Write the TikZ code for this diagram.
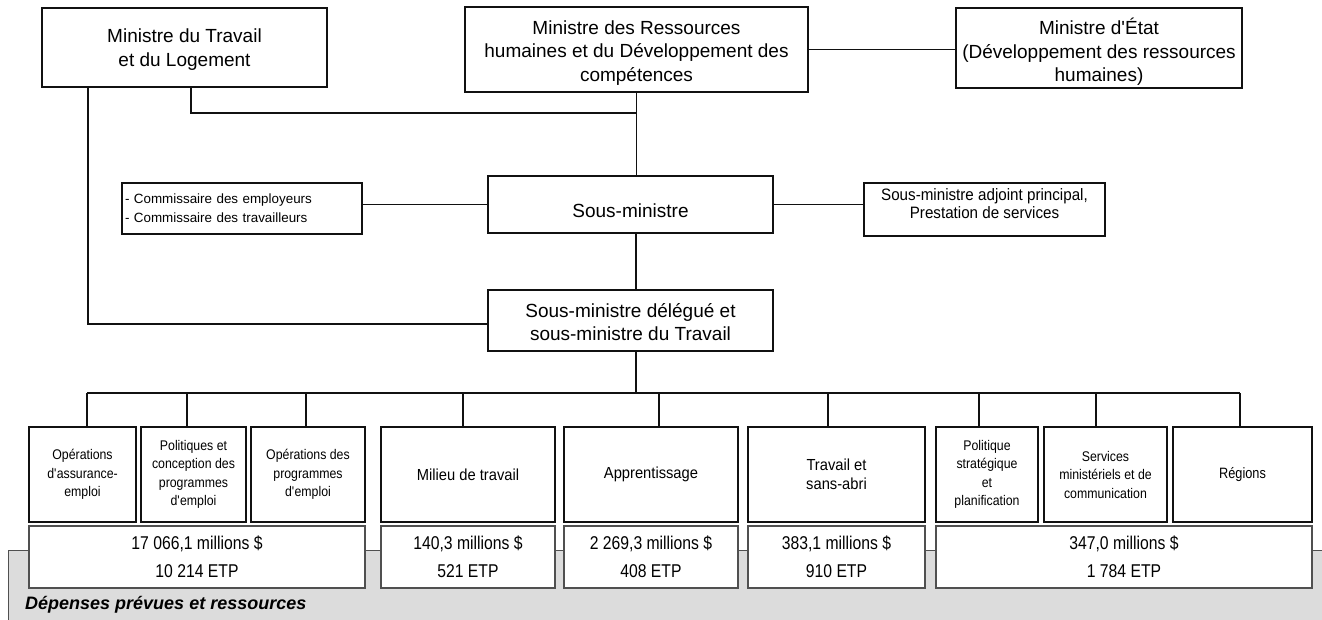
\documentclass[tikz,border=0pt]{standalone}
\usepackage{fontspec}
\setmainfont{Liberation Sans}
\newfontfamily\narrowA[FakeStretch=0.88]{Liberation Sans}
\newfontfamily\narrowB[FakeStretch=0.92]{Liberation Sans}
\newfontfamily\narrowC[FakeStretch=0.85]{Liberation Sans}
\definecolor{bandgray}{HTML}{DCDCDC}
\definecolor{amtline}{HTML}{505050}
\definecolor{inkline}{HTML}{111111}
\newcommand\topstrut[1]{\rule{0pt}{#1}}
\newcommand\botstrut[1]{\rule[-#1]{0pt}{#1}}
\begin{document}
\begin{tikzpicture}[x=1pt,y=-1pt,
  box/.style={draw=inkline, rectangle, inner sep=0pt, align=center, fill=white, line width=1.3pt},
  topbox/.style={box, line width=2.3pt, font=\fontsize{19}{23.5}\selectfont},
  midbox/.style={box, line width=1.4pt, font=\fontsize{19}{23}\selectfont},
  unitA/.style={box, line width=1.9pt, minimum height=95pt, font=\narrowA\fontsize{14}{18.5}\selectfont},
  unitB/.style={box, line width=1.9pt, minimum height=95pt, font=\narrowB\fontsize{16}{19}\selectfont},
  amount/.style={box, draw=amtline, line width=1.1pt, minimum height=62pt, font=\narrowC\fontsize{18.5}{28}\selectfont},
  link/.style={draw=inkline, line width=1.3pt}
]
\useasboundingbox (0,0) rectangle (1322,620);

% grey band
\filldraw[fill=bandgray, draw=amtline, line width=1pt] (8,550) rectangle (1345,650);
\node[anchor=west, inner sep=0pt, font=\bfseries\itshape\fontsize{18}{20}\selectfont] (band) at (25,605) {Dépenses prévues et ressources};

% top level
\node[topbox, minimum width=285pt, minimum height=79pt] (MT) at (184.5,47.5) {\topstrut{18pt}Ministre du Travail\\et du Logement};
\node[topbox, minimum width=343pt, minimum height=85pt] (MR) at (636.5,49.5) {\topstrut{20pt}Ministre des Ressources\\humaines et du Développement des\\compétences};
\node[midbox, minimum width=286pt, minimum height=80pt, font=\fontsize{19}{23.5}\selectfont] (ME) at (1099,48) {\topstrut{24.5pt}Ministre d\textquotesingle{}État\\(Développement des ressources\\humaines)};

% second level
\node[box, minimum height=51pt, text width=234pt, inner xsep=3pt, align=left, font=\fontsize{13.4}{19}\selectfont] (CO) at (242,208.5) {- Commissaire des employeurs\\- Commissaire des travailleurs};
\node[midbox, minimum width=285pt, minimum height=57pt] (SM) at (630.5,204.5) {\topstrut{27pt}Sous-ministre};
\node[box, minimum width=241pt, minimum height=53pt, font=\narrowB\fontsize{16.5}{17.5}\selectfont] (AD) at (984.5,209.5) {Sous-ministre adjoint principal,\\Prestation de services\botstrut{11.5pt}};
\node[midbox, minimum width=285pt, minimum height=61pt, font=\fontsize{19}{22.7}\selectfont] (SMD) at (630.5,320.5) {\topstrut{17pt}Sous-ministre délégué et\\sous-ministre du Travail};

% units
\node[unitA, minimum width=107pt] (u1) at (82.5,474.5) {Opérations\\d\textquotesingle{}assurance-\\emploi};
\node[unitA, minimum width=105pt] (u2) at (193.5,474.5) {Politiques et\\conception des\\programmes\\d\textquotesingle{}emploi};
\node[unitA, minimum width=114pt] (u3) at (308,474.5) {Opérations des\\programmes\\d\textquotesingle{}emploi};
\node[unitB, minimum width=174pt] (u4) at (468,474.5) {Milieu de travail};
\node[unitB, minimum width=174pt] (u5) at (651,474.5) {Apprentissage};
\node[unitB, minimum width=177pt] (u6) at (836.5,474.5) {Travail et\\sans-abri};
\node[unitA, minimum width=102pt] (u7) at (987,474.5) {Politique\\stratégique\\et\\planification};
\node[unitA, minimum width=123pt] (u8) at (1105.5,474.5) {Services\\ministériels et de\\communication};
\node[unitA, minimum width=139pt, font=\narrowC\fontsize{15}{18}\selectfont] (u9) at (1242.5,474.5) {Régions};

% amounts
\node[amount, minimum width=336pt] (a1) at (197,557) {17 066,1 millions \$\\10 214 ETP};
\node[amount, minimum width=174pt] (a2) at (468,557) {140,3 millions \$\\521 ETP};
\node[amount, minimum width=174pt] (a3) at (651,557) {2 269,3 millions \$\\408 ETP};
\node[amount, minimum width=177pt] (a4) at (836.5,557) {383,1 millions \$\\910 ETP};
\node[amount, minimum width=376pt] (a5) at (1124,557) {347,0 millions \$\\1 784 ETP};

% junction coordinates
\coordinate (j1) at (636.5,113);
\coordinate (b0) at (636,393);
\coordinate (b1) at (87,393);
\coordinate (b2) at (187,393);
\coordinate (b3) at (306,393);
\coordinate (b4) at (463,393);
\coordinate (b5) at (659,393);
\coordinate (b6) at (828,393);
\coordinate (b7) at (979,393);
\coordinate (b8) at (1096,393);
\coordinate (b9) at (1240,393);

% connectors
\draw[link] (MR.east) -- (MR.east -| ME.west);
\draw[link] ([xshift=6.5pt]MT.south) |- (j1);
\draw[link] (MR.south) -- (MR.south |- SM.north);
\draw[link] (SM.west) -- (SM.west -| CO.east);
\draw[link] (SM.east) -- (SM.east -| AD.west);
\draw[link] ([xshift=5.5pt]SM.south) -- ([xshift=5.5pt]SMD.north);
\draw[link] ([xshift=-96.5pt]MT.south) |- ([yshift=-3.5pt]SMD.west);
\draw[link] ([xshift=5.5pt]SMD.south) -- (b0);
\draw[link] (b1) -- (b9);
\draw[link] (b1) -- (b1 |- u1.north);
\draw[link] (b2) -- (b2 |- u2.north);
\draw[link] (b3) -- (b3 |- u3.north);
\draw[link] (b4) -- (b4 |- u4.north);
\draw[link] (b5) -- (b5 |- u5.north);
\draw[link] (b6) -- (b6 |- u6.north);
\draw[link] (b7) -- (b7 |- u7.north);
\draw[link] (b8) -- (b8 |- u8.north);
\draw[link] (b9) -- (b9 |- u9.north);
\end{tikzpicture}
\end{document}
